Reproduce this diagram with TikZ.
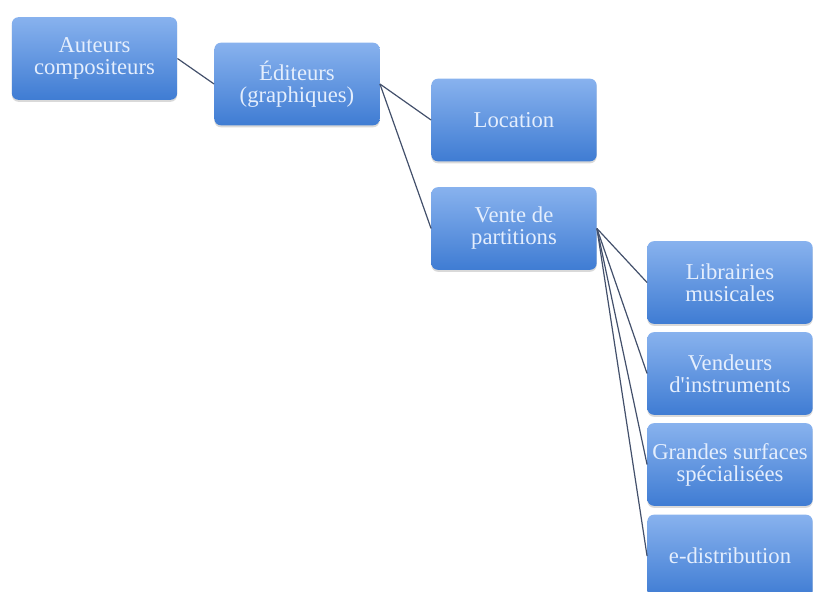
\documentclass[tikz,border=0pt]{standalone}
\usepackage{fontspec}
\setmainfont{Liberation Serif}[Ligatures=TeXOff]
\usetikzlibrary{shadows}
\definecolor{boxtop}{HTML}{88B2EE}
\definecolor{boxbot}{HTML}{3F7CD3}
\definecolor{boxtext}{HTML}{E4EEFD}
\definecolor{linkcol}{HTML}{43506B}
\begin{document}
\begin{tikzpicture}[x=0.75pt,y=-0.75pt,
  box/.style={rectangle, rounded corners=5pt, minimum width=124pt, minimum height=62pt,
    inner sep=0pt, top color=boxtop, bottom color=boxbot, draw=none,
    text=boxtext, align=center, font=\fontsize{17}{16.5}\selectfont,
    drop shadow={shadow xshift=0pt, shadow yshift=-1.5pt, opacity=0.25, fill=black!60}},
  link/.style={draw=linkcol, line width=0.9pt}]
\useasboundingbox (0,0) rectangle (814,592);
\node[box] (aut) at (94.5,58.5) {Auteurs\\compositeurs};
\node[box] (edi) at (297,84) {Éditeurs\\(graphiques)};
\node[box] (loc) at (514,120) {Location};
\node[box] (ven) at (514,228.5) {Vente de\\partitions};
\node[box] (lib) at (730,282.5) {Librairies\\musicales};
\node[box] (vnd) at (730,373.5) {Vendeurs\\d'instruments};
\node[box] (gra) at (730,464.5) {Grandes surfaces\\spécialisées};
\node[box] (edist) at (730,556) {e-distribution};
\draw[link] (aut.east) -- (edi.west);
\draw[link] (edi.east) -- (loc.west);
\draw[link] (edi.east) -- (ven.west);
\draw[link] (ven.east) -- (lib.west);
\draw[link] (ven.east) -- (vnd.west);
\draw[link] (ven.east) -- (gra.west);
\draw[link] (ven.east) -- (edist.west);
\end{tikzpicture}
\end{document}
